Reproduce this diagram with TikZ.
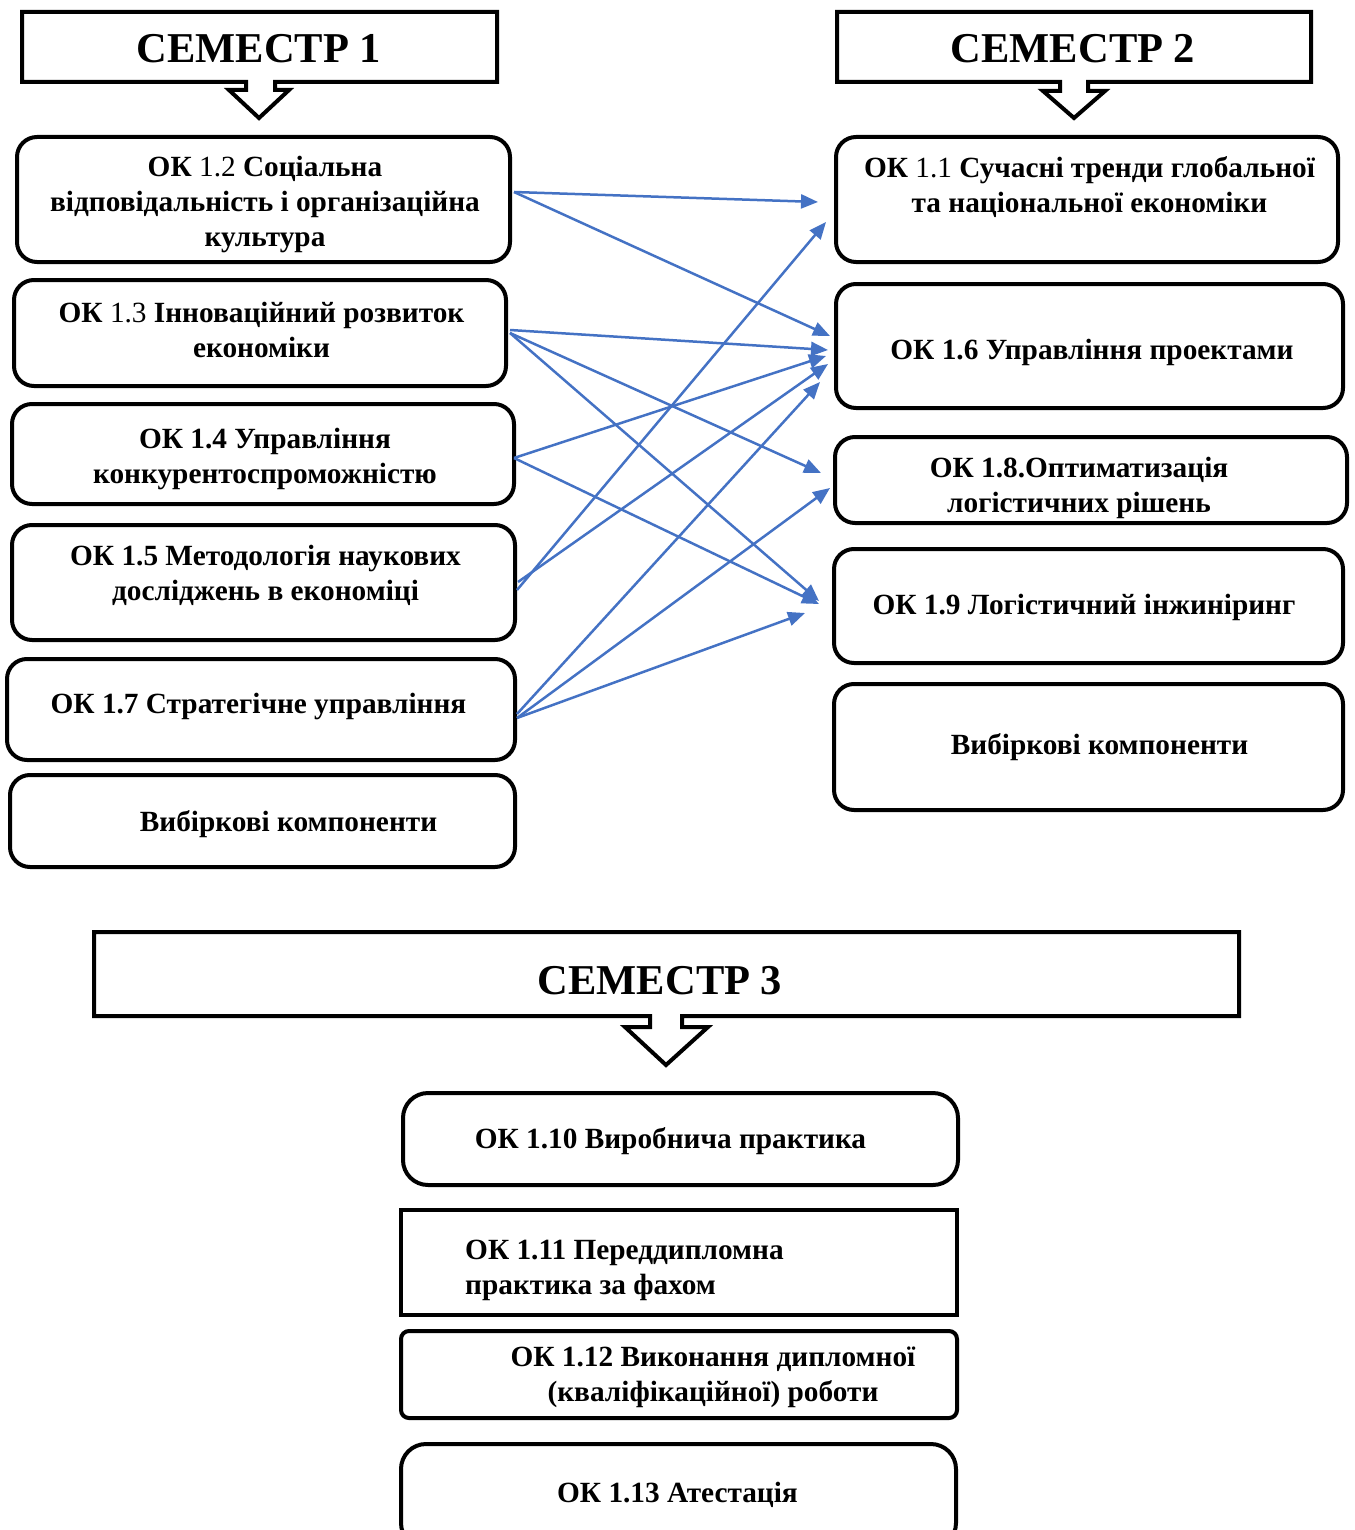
\documentclass[tikz,border=0pt]{standalone}
\usepackage{fontspec}
\setmainfont{Liberation Serif}
\usetikzlibrary{arrows.meta,calc}
\definecolor{arrowblue}{HTML}{4472C4}
\begin{document}
\begin{tikzpicture}[x=1pt,y=-1pt,
  hdr/.style={draw=black, line width=4pt, line join=miter},
  title/.style={font=\bfseries\fontsize{42.5}{50}\selectfont, inner sep=0pt},
  box/.style={draw=black, line width=4pt, rounded corners=20pt, inner sep=0pt},
  txt/.style={font=\bfseries\fontsize{29.3}{35}\selectfont, align=center, inner sep=0pt},
  conn/.style={draw=arrowblue, line width=2.5pt, -{Triangle[length=17pt,width=14pt]}}
]
\useasboundingbox (0,0) rectangle (1354,1530);
\clip (0,0) rectangle (1354,1530);

% ---------- headers ----------
\draw[hdr] (22,12) -- (497,12) -- (497,82) -- (275,82) -- (275,90) -- (289,90)
  -- (259,118) -- (229,90) -- (246,90) -- (246,82) -- (22,82) -- cycle;
\node[title] (s1) at (259,49) {СЕМЕСТР 1};

\draw[hdr] (837,12) -- (1311,12) -- (1311,82) -- (1088,82) -- (1088,91) -- (1105,91)
  -- (1074,118) -- (1043,91) -- (1060,91) -- (1060,82) -- (837,82) -- cycle;
\node[title] (s2) at (1073,49) {СЕМЕСТР 2};

\draw[hdr] (94,932) -- (1239,932) -- (1239,1016) -- (682,1016) -- (682,1027) -- (708,1027)
  -- (666,1065) -- (625,1027) -- (650,1027) -- (650,1016) -- (94,1016) -- cycle;
\node[title] (s3) at (660,981) {СЕМЕСТР 3};

% ---------- semester 1 boxes ----------
\node[box, minimum width=493pt, minimum height=125pt] (b12) at (263.5,199.5) {};
\node[box, minimum width=492pt, minimum height=106pt] (b13) at (260,333) {};
\node[box, minimum width=502pt, minimum height=100pt] (b14) at (263,454) {};
\node[box, minimum width=503pt, minimum height=115pt] (b15) at (263.5,582.5) {};
\node[box, minimum width=508pt, minimum height=101pt] (b17) at (261,709.5) {};
\node[box, minimum width=505pt, minimum height=92pt] (bv1) at (262.5,821) {};

\node[txt] (t12) at (265,204) {ОК {\mdseries 1.2} Соціальна\\відповідальність і організаційна\\культура};
\node[txt] (t13) at (261.5,329.5) {ОК {\mdseries 1.3} Інноваційний розвиток\\економіки};
\node[txt] (t14) at (265,458.5) {ОК 1.4 Управління\\конкурентоспроможністю};
\node[txt] (t15) at (265.5,575.5) {ОК 1.5 Методологія наукових\\досліджень в економіці};
\node[txt] (t17) at (258.5,706) {ОК 1.7 Стратегічне управління};
\node[txt] (tv1) at (288.5,824) {Вибіркові компоненти};

% ---------- semester 2 boxes ----------
\node[box, minimum width=502pt, minimum height=125pt] (b11) at (1087,199.5) {};
\node[box, minimum width=507pt, minimum height=124pt] (b16) at (1089.5,346) {};
\node[box, minimum width=512pt, minimum height=86pt] (b18) at (1091,480) {};
\node[box, minimum width=509pt, minimum height=114pt] (b19) at (1088.5,606) {};
\node[box, minimum width=509pt, minimum height=126pt] (bv2) at (1088.5,747) {};

\node[txt] (t11) at (1089.5,187) {ОК {\mdseries 1.1} Сучасні тренди глобальної\\та національної економіки};
\node[txt] (t16) at (1092,352) {ОК 1.6 Управління проектами};
\node[txt] (t18) at (1079,487.5) {ОК 1.8.Оптиматизація\\логістичних рішень};
\node[txt] (t19) at (1084,607) {ОК 1.9 Логістичний інжиніринг};
\node[txt] (tv2) at (1099.5,747) {Вибіркові компоненти};

% ---------- semester 3 boxes ----------
\node[box, rounded corners=25pt, minimum width=555pt, minimum height=92pt] (b110) at (680.5,1139) {};
\node[box, rounded corners=0pt, minimum width=556pt, minimum height=105pt] (b111) at (679,1262.5) {};
\node[box, rounded corners=8pt, minimum width=556pt, minimum height=87pt] (b112) at (679,1374.5) {};
\node[box, rounded corners=25pt, minimum width=555pt, minimum height=104pt] (b113) at (678.5,1496) {};

\node[txt] (t110) at (670.5,1141) {ОК 1.10 Виробнича практика};
\node[txt, align=left, anchor=west] (t111) at (465,1270.5) {ОК 1.11 Переддипломна\\практика за фахом};
\node[txt] (t112) at (713,1377.5) {ОК 1.12 Виконання дипломної\\(кваліфікаційної) роботи};
\node[txt] (t113) at (677.5,1495) {ОК 1.13 Атестація};

% ---------- connectors ----------
\draw[conn] ($(b12.east)+(2,-7.5)$) -- ($(b11.west)+(-16,2.5)$);
\draw[conn] ($(b12.east)+(2,-7.5)$) -- ($(b16.west)+(-4,-10)$);
\draw[conn] ($(b13.east)+(2,-3)$) -- ($(b16.west)+(-6,4)$);
\draw[conn] ($(b13.east)+(2,0)$) -- ($(b18.west)+(-12,-7)$);
\draw[conn] ($(b13.east)+(2,0)$) -- ($(b19.west)+(-13,-5)$);
\draw[conn] ($(b14.east)+(-2,4)$) -- ($(b16.west)+(-8,10)$);
\draw[conn] ($(b14.east)+(-2,4)$) -- ($(b19.west)+(-13,-2)$);
\draw[conn] ($(b15.east)+(0,7.5)$) -- ($(b11.west)+(-8,22.5)$);
\draw[conn] ($(b15.east)+(1,-0.5)$) -- ($(b16.west)+(-6,18)$);
\draw[conn] ($(b17.east)+(0,4.5)$) -- ($(b16.west)+(-14,36)$);
\draw[conn] ($(b17.east)+(0,8.5)$) -- ($(b18.west)+(-3,8)$);
\draw[conn] ($(b17.east)+(0,8.5)$) -- ($(b19.west)+(-27,7)$);
\end{tikzpicture}
\end{document}
